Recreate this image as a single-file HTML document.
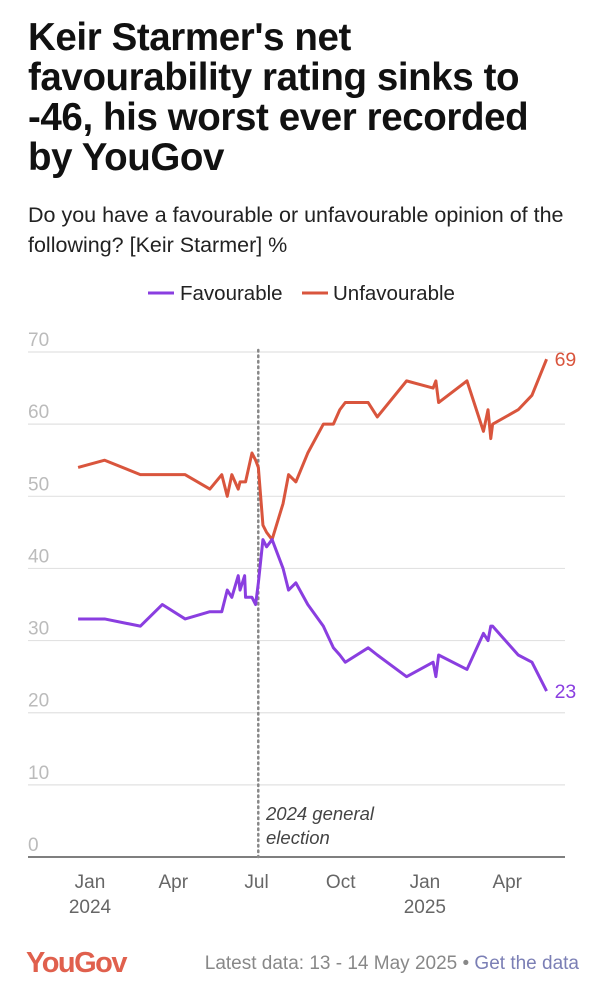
<!DOCTYPE html>
<html><head><meta charset="utf-8">
<style>
body{margin:0;width:607px;height:1000px;background:#fff;font-family:"Liberation Sans",sans-serif;overflow:hidden;position:relative}
.t{position:absolute;left:28px;top:18px;font-size:38.5px;font-weight:bold;line-height:40px;color:#111;letter-spacing:-0.4px;margin:0;white-space:nowrap}
.s{position:absolute;left:28px;top:200px;font-size:21.5px;line-height:30px;color:#222;width:570px}
svg{position:absolute;left:0;top:0}
</style></head><body>
<h1 class="t">Keir Starmer's net<br>favourability rating sinks to<br>-46, his worst ever recorded<br>by YouGov</h1>
<div class="s">Do you have a favourable or unfavourable opinion of the<br>following? [Keir Starmer] %</div>
<svg id="c" width="607" height="1000"></svg>
<script>
const days=[-13,16,55,79,104,131,144,150,155,162,164,169,170,177,181,184,189,193,199,211,217,225,238,255,266,273,279,304,314,346,375,378,381,412,430,435,438,440,468,483,499];
const unfav=[54,55,53,53,53,51,53,50,53,51,52,52,52,56,55,54,46,45,44,49,53,52,56,60,60,62,63,63,61,66,65,66,63,66,59,62,58,60,62,64,69];
const fav=[33,33,32,35,33,34,34,37,36,39,37,39,36,36,35,38,44,43,44,40,37,38,35,32,29,28,27,29,28,25,27,25,28,26,31,30,32,32,28,27,23];
const yTicks=[0,10,20,30,40,50,60,70];
const xTickDays=[0,91,182,274,366,456];
const xTickLabels=["Jan","Apr","Jul","Oct","Jan","Apr"];
const xYearLabels=["2024","","","","2025",""];
const electionDay=185;
const NS="http://www.w3.org/2000/svg";
const svg=document.getElementById('c');
const X=d=>90+d*0.915, Y=v=>857-v*7.214;
function mk(t,a,txt){const e=document.createElementNS(NS,t);for(const k in a)e.setAttribute(k,a[k]);if(txt!==undefined)e.textContent=txt;svg.appendChild(e);return e;}
yTicks.forEach(v=>{
  const g=mk('line',{x1:28,x2:565,y1:Y(v),y2:Y(v),stroke:v===0?'#555':'#e2e2e2','stroke-width':v===0?1.5:1.2});
  
  
  const t=mk('text',{x:28,y:Y(v)-6,'font-size':19,fill:'#bbb'},String(v));
  
  
});
xTickDays.forEach((d,i)=>{
  const t=mk('text',{x:X(d),y:888,'font-size':19,fill:'#666','text-anchor':'middle'},xTickLabels[i]);
  
  
  if(xYearLabels[i]){const y=mk('text',{x:X(d),y:913,'font-size':19,fill:'#666','text-anchor':'middle'},xYearLabels[i]);
  
  }
});
const el=mk('line',{x1:X(electionDay)-1,x2:X(electionDay)-1,y1:350,y2:857,stroke:'#888','stroke-width':2.5,'stroke-dasharray':'1.5 4','stroke-linecap':'round'});


const a1=mk('text',{x:266,y:820,'font-size':18.5,fill:'#444','font-style':'italic'},'2024 general');


const a2=mk('text',{x:266,y:844,'font-size':18.5,fill:'#444','font-style':'italic'},'election');


function series(vals,col,name){
  const p=mk('polyline',{points:days.map((d,i)=>X(d)+','+Y(vals[i])).join(' '),fill:'none',stroke:col,'stroke-width':3,'stroke-linejoin':'round'});
  
  
  const n=vals.length-1;
  const l=mk('text',{x:X(days[n])+8,y:Y(vals[n])+7,'font-size':19.5,fill:col},String(vals[n]));
  
  
}
series(unfav,'#d9553d','unfavourable');
series(fav,'#8a3ee0','favourable');
const l1=mk('line',{x1:148,x2:174,y1:293,y2:293,stroke:'#8a3ee0','stroke-width':3});


const lt1=mk('text',{x:180,y:300,'font-size':20.5,fill:'#222'},'Favourable');


const l2=mk('line',{x1:302,x2:328,y1:293,y2:293,stroke:'#d9553d','stroke-width':3});


const lt2=mk('text',{x:333,y:300,'font-size':20.5,fill:'#222'},'Unfavourable');


const lg=mk('text',{x:26,y:972,'font-size':29,'font-weight':'bold',fill:'#e0604d','letter-spacing':'-1.5'},'YouGov');


const ft=mk('text',{x:579,y:969,'font-size':19,fill:'#888','text-anchor':'end'});


const s1=document.createElementNS(NS,'tspan');s1.textContent='Latest data: 13 - 14 May 2025 • ';ft.appendChild(s1);
const s2=document.createElementNS(NS,'tspan');s2.setAttribute('fill','#7b7fb5');s2.textContent='Get the data';ft.appendChild(s2);


</script>
</body></html>
